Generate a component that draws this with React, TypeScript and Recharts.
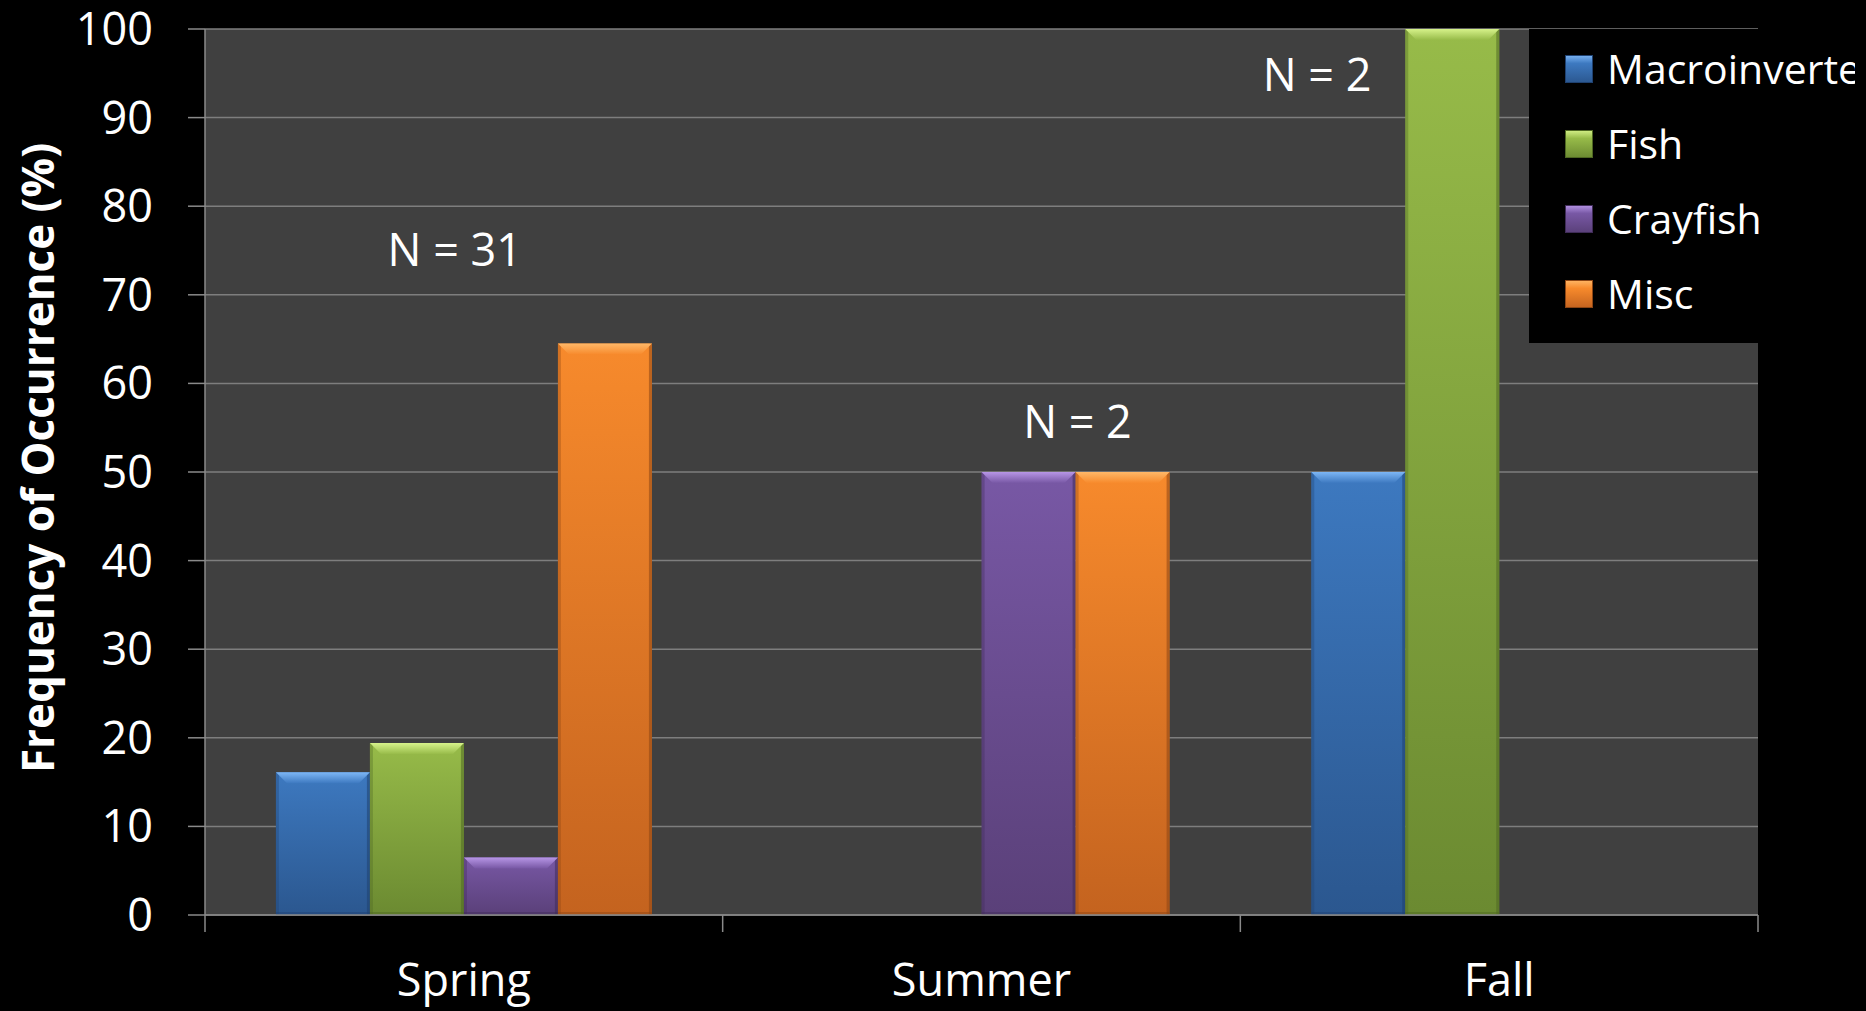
import React from 'react';
import { BarChart, Bar, XAxis, YAxis, CartesianGrid, Legend, ReferenceDot } from 'recharts';

const seasons = ['Spring', 'Summer', 'Fall'];
const macroinvertebrates = [16.1, 0, 50];
const fish = [19.4, 0, 100];
const crayfish = [6.5, 50, 0];
const misc = [64.5, 50, 0];
const yTicks = [0, 10, 20, 30, 40, 50, 60, 70, 80, 90, 100];

// sample sizes written over each season
const noteTexts = ['N = 31', 'N = 2', 'N = 2'];
const noteSeasons = ['Spring', 'Summer', 'Fall'];
const noteHeights = [75, 55.6, 94.8];
const noteShift = [-9, 96, -182];

const series = [
  { key: 'macro', name: 'Macroinvertebrates', light: '#7DB6F5', top: '#3D79C0', bottom: '#2B578F', edge: '#1F4170' },
  { key: 'fish', name: 'Fish', light: '#D6F28A', top: '#97BB49', bottom: '#6B8A31', edge: '#4E6722' },
  { key: 'crayfish', name: 'Crayfish', light: '#B796E6', top: '#7858A5', bottom: '#5A4079', edge: '#3F2C57' },
  { key: 'misc', name: 'Misc', light: '#FFB868', top: '#F78A2C', bottom: '#C4631F', edge: '#8C4514' },
];

const data = seasons.map((season, i) => ({
  season,
  macro: macroinvertebrates[i],
  fish: fish[i],
  crayfish: crayfish[i],
  misc: misc[i],
}));

const axisGrey = '#8a8a8a';

const makeBar = (s: typeof series[number]) => (props: any) => {
  const { x, y, width, height } = props;
  if (!height || height <= 0) return null;
  const b = Math.min(11, height / 2);
  const e = 3;
  return (
    <g>
      <rect x={x} y={y} width={width} height={height} fill={`url(#body-${s.key})`} />
      <rect x={x} y={y} width={e} height={height} fill={s.edge} opacity={0.35} />
      <rect x={x + width - e} y={y} width={e} height={height} fill={s.edge} opacity={0.55} />
      <rect x={x} y={y + height - e} width={width} height={e} fill={s.edge} opacity={0.45} />
      <polygon
        points={`${x},${y} ${x + width},${y} ${x + width - b},${y + b} ${x + b},${y + b}`}
        fill={`url(#bevel-${s.key})`}
      />
    </g>
  );
};

// category label with tick marks on the band edges (Excel style)
const SeasonTick = (props: any) => {
  const { x, y, payload, index, visibleTicksCount } = props;
  const half = payload?.offset ?? 0;
  return (
    <g>
      <line x1={x - half} x2={x - half} y1={y} y2={y + 17} stroke={axisGrey} strokeWidth={1.5} />
      {index === visibleTicksCount - 1 && (
        <line x1={x + half} x2={x + half} y1={y} y2={y + 17} stroke={axisGrey} strokeWidth={1.5} />
      )}
      <text x={x} y={y + 49} dy="0.71em" textAnchor="middle" fill="#fff" fontSize={45}>
        {payload.value}
      </text>
    </g>
  );
};

const LegendBox = () => (
  <div style={{ background: '#000', width: 326, height: 314, overflow: 'hidden', paddingTop: 2, boxSizing: 'border-box' }}>
    {series.map(s => (
      <div key={s.key} style={{ height: 75, display: 'flex', alignItems: 'center', whiteSpace: 'nowrap' }}>
        <div
          style={{
            flexShrink: 0,
            marginLeft: 36,
            width: 28,
            height: 28,
            background: `linear-gradient(${s.light} 0%, ${s.top} 30%, ${s.bottom} 100%)`,
            boxShadow: `inset 0 0 0 1px ${s.edge}`,
          }}
        />
        <span style={{ flexShrink: 0, marginLeft: 14, color: '#fff', fontSize: 41, lineHeight: 1 }}>{s.name}</span>
      </div>
    ))}
  </div>
);

const AxisTitle = () => (
  <text
    x={37}
    y={458}
    transform="rotate(-90, 37, 458)"
    textAnchor="middle"
    dominantBaseline="central"
    fill="#fff"
    fontSize={44}
    fontWeight={700}
  >
    Frequency of Occurrence (%)
  </text>
);

export default function App() {
  return (
    <div
      style={{
        position: 'absolute',
        left: 0,
        top: 0,
        width: 1866,
        height: 1011,
        background: '#000',
        fontFamily: '"Open Sans", sans-serif',
      }}
    >
      <BarChart
        width={1866}
        height={1011}
        data={data}
        margin={{ top: 29, right: 108, bottom: 0, left: 0 }}
        barCategoryGap="13.7%"
        barGap={0}
      >
        <defs>
          {series.map(s => (
            <linearGradient key={`body-${s.key}`} id={`body-${s.key}`} x1="0" y1="0" x2="0" y2="1">
              <stop offset="0%" stopColor={s.top} />
              <stop offset="100%" stopColor={s.bottom} />
            </linearGradient>
          ))}
          {series.map(s => (
            <linearGradient key={`bevel-${s.key}`} id={`bevel-${s.key}`} x1="0" y1="0" x2="0" y2="1">
              <stop offset="0%" stopColor={s.light} />
              <stop offset="100%" stopColor={s.top} />
            </linearGradient>
          ))}
        </defs>
        <CartesianGrid vertical={false} stroke="#7e7e7e" strokeWidth={1.5} fill="#404040" />
        <XAxis
          dataKey="season"
          height={96}
          interval={0}
          tickLine={false}
          tickSize={0}
          tickMargin={0}
          axisLine={{ stroke: axisGrey, strokeWidth: 1.5 }}
          tick={<SeasonTick />}
        />
        <YAxis
          width={205}
          domain={[0, 100]}
          ticks={yTicks}
          interval={0}
          tickSize={17}
          tickMargin={35}
          axisLine={{ stroke: axisGrey, strokeWidth: 1.5 }}
          tickLine={{ stroke: axisGrey, strokeWidth: 1.5 }}
          tick={{ fill: '#fff', fontSize: 45 }}
          label={{ content: () => <AxisTitle /> }}
        />
        {series.map(s => (
          <Bar
            key={s.key}
            dataKey={s.key}
            name={s.name}
            fill={s.top}
            shape={makeBar(s)}
            isAnimationActive={false}
          />
        ))}
        {noteTexts.map((t, i) => (
          <ReferenceDot
            key={`note-${i}`}
            x={noteSeasons[i]}
            y={noteHeights[i]}
            r={1}
            fill="none"
            stroke="none"
            label={{ value: t, position: 'center', fill: '#fff', fontSize: 45, dx: noteShift[i] }}
          />
        ))}
        <Legend
          layout="horizontal"
          verticalAlign="middle"
          align="center"
          content={() => <LegendBox />}
          wrapperStyle={{ position: 'absolute', left: 1529, top: 29, width: 326, height: 314, margin: 0 }}
        />
      </BarChart>
    </div>
  );
}
